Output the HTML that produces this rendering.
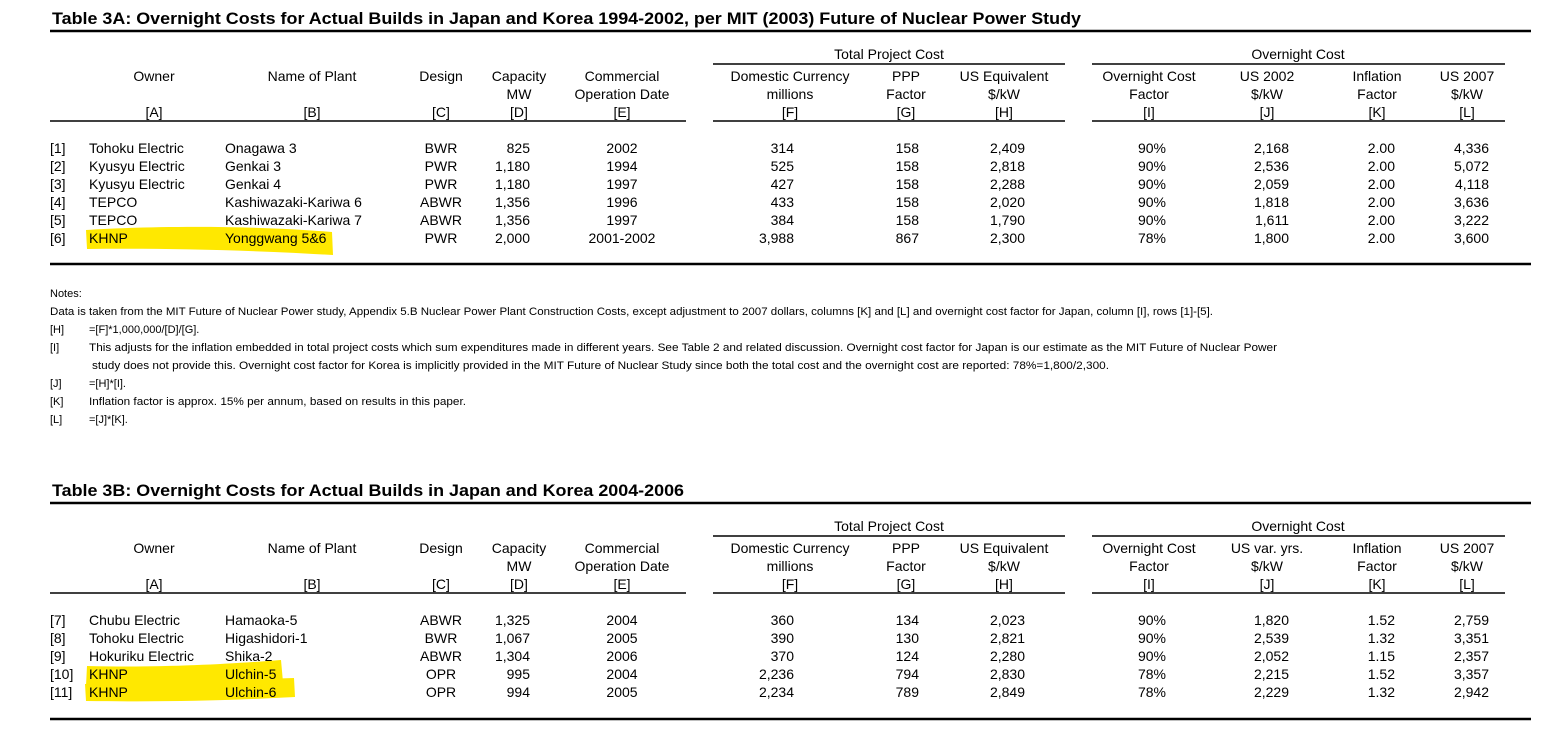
<!DOCTYPE html>
<html><head><meta charset="utf-8"><style>
html,body{margin:0;padding:0;background:#fff;}
svg{display:block;}
text{font-family:"Liberation Sans",Arial,sans-serif;fill:#000;}
.h{font-size:14px;}
.d{font-size:14px;}
.n{font-size:11px;}
.t{font-size:17px;font-weight:bold;}
</style></head><body>
<svg id="s" width="1557" height="735" viewBox="0 0 1557 735" xmlns="http://www.w3.org/2000/svg">
<g id="hl">
<path d="M86,230 C150,226 250,225 332,232 L333,255 C250,250 160,248 87,249 Z" fill="#ffe800"/>
<path d="M87,666 C160,668 230,664 281,660 L283,682 C220,683 160,684 86,686 Z" fill="#ffe800"/>
<path d="M85,684 C160,682 230,680 294,678 L295,697 C220,701 160,702 86,701 Z" fill="#ffe800"/>
</g>
<g id="g"></g>
</svg>
<script>
const NS="http://www.w3.org/2000/svg";
const g=document.getElementById('g');
function T(x,y,str,cls,anchor,name,len){
  const t=document.createElementNS(NS,'text');
  t.setAttribute('x',x);t.setAttribute('y',y);
  t.setAttribute('class',cls);
  if(anchor)t.setAttribute('text-anchor',anchor);
  if(len){t.setAttribute('textLength',len);t.setAttribute('lengthAdjust','spacingAndGlyphs');}
  t.textContent=str;
  
  
  g.appendChild(t);
}
function L(x1,x2,y,w,name){
  const l=document.createElementNS(NS,'line');
  l.setAttribute('x1',x1);l.setAttribute('x2',x2);l.setAttribute('y1',y);l.setAttribute('y2',y);
  l.setAttribute('stroke','#000');l.setAttribute('stroke-width',w);
  
  
  g.appendChild(l);
}
const idxA=["[1]","[2]","[3]","[4]","[5]","[6]"];
const ownerA=["Tohoku Electric","Kyusyu Electric","Kyusyu Electric","TEPCO","TEPCO","KHNP"];
const plantA=["Onagawa 3","Genkai 3","Genkai 4","Kashiwazaki-Kariwa 6","Kashiwazaki-Kariwa 7","Yonggwang 5&6"];
const designA=["BWR","PWR","PWR","ABWR","ABWR","PWR"];
const capA=["825","1,180","1,180","1,356","1,356","2,000"];
const dateA=["2002","1994","1997","1996","1997","2001-2002"];
const domA=["314","525","427","433","384","3,988"];
const pppA=["158","158","158","158","158","867"];
const usA=["2,409","2,818","2,288","2,020","1,790","2,300"];
const ocfA=["90%","90%","90%","90%","90%","78%"];
const us02A=["2,168","2,536","2,059","1,818","1,611","1,800"];
const infA=["2.00","2.00","2.00","2.00","2.00","2.00"];
const us07A=["4,336","5,072","4,118","3,636","3,222","3,600"];

const idxB=["[7]","[8]","[9]","[10]","[11]"];
const ownerB=["Chubu Electric","Tohoku Electric","Hokuriku Electric","KHNP","KHNP"];
const plantB=["Hamaoka-5","Higashidori-1","Shika-2","Ulchin-5","Ulchin-6"];
const designB=["ABWR","BWR","ABWR","OPR","OPR"];
const capB=["1,325","1,067","1,304","995","994"];
const dateB=["2004","2005","2006","2004","2005"];
const domB=["360","390","370","2,236","2,234"];
const pppB=["134","130","124","794","789"];
const usB=["2,023","2,821","2,280","2,830","2,849"];
const ocfB=["90%","90%","90%","78%","78%"];
const us02B=["1,820","2,539","2,052","2,215","2,229"];
const infB=["1.52","1.32","1.15","1.52","1.32"];
const us07B=["2,759","3,351","2,357","3,357","2,942"];

const cols=[[50,'start'],[89,'start'],[225,'start'],[441,'middle'],[530,'end'],[622,'middle'],[794,'end'],[919,'end'],[1025,'end'],[1166,'end'],[1289,'end'],[1395,'end'],[1489,'end']];
const colNames=['row-index','owner','plant-name','design','capacity','operation-date','domestic-currency','ppp-factor','us-equivalent','overnight-factor','us-cost','inflation-factor','us-2007'];

function table(top,title,titleLen,midLabel,data,pre){
  T(52,top+24,title,'t',null,pre+'-title',titleLen);
  L(50,1531,top+31,2.5,pre+'-top-rule');
  T(889,top+59,'Total Project Cost','h','middle',pre+'-group-total-project-cost');
  T(1298,top+59,'Overnight Cost','h','middle',pre+'-group-overnight-cost');
  L(713,1065,top+64,1.5,pre+'-group-rule-total');
  L(1092,1505,top+64,1.5,pre+'-group-rule-overnight');
  const hdr=[[154,['Owner','','[A]']],[312,['Name of Plant','','[B]']],[441,['Design','','[C]']],[519,['Capacity','MW','[D]']],[622,['Commercial','Operation Date','[E]']],[790,['Domestic Currency','millions','[F]']],[906,['PPP','Factor','[G]']],[1004,['US Equivalent','$/kW','[H]']],[1149,['Overnight Cost','Factor','[I]']],[1267,[midLabel,'$/kW','[J]']],[1377,['Inflation','Factor','[K]']],[1467,['US 2007','$/kW','[L]']]];
  hdr.forEach((h,i)=>{h[1].forEach((s,j)=>{if(s)T(h[0],top+81+j*18,s,'h','middle',pre+'-header-'+(i)+'-'+j);});});
  L(50,686,top+121,1.5,pre+'-header-rule-1');
  L(713,1065,top+121,1.5,pre+'-header-rule-2');
  L(1092,1505,top+121,1.5,pre+'-header-rule-3');
  const n=data[0].length;
  for(let r=0;r<n;r++){
    const y=top+153+r*18;
    data.forEach((arr,c)=>T(cols[c][0],y,arr[r],'d',cols[c][1],pre+'-'+colNames[c]+'-'+(r+1)));
  }
}
table(0,'Table 3A: Overnight Costs for Actual Builds in Japan and Korea 1994-2002, per MIT (2003) Future of Nuclear Power Study',1029,'US 2002',[idxA,ownerA,plantA,designA,capA,dateA,domA,pppA,usA,ocfA,us02A,infA,us07A],'table-3a');
L(50,1531,264,2.5,'table-3a-bottom-rule');

T(50,297,'Notes:','n',null,'notes-heading');
T(50,315,'Data is taken from the MIT Future of Nuclear Power study, Appendix 5.B Nuclear Power Plant Construction Costs, except adjustment to 2007 dollars, columns [K] and [L] and overnight cost factor for Japan, column [I], rows [1]-[5].','n',null,'note-source',1163);
const noteLabels=["[H]","[I]","","[J]","[K]","[L]"];
const noteTexts=["=[F]*1,000,000/[D]/[G].","This adjusts for the inflation embedded in total project costs which sum expenditures made in different years. See Table 2 and related discussion. Overnight cost factor for Japan is our estimate as the MIT Future of Nuclear Power"," study does not provide this.  Overnight cost factor for Korea is implicitly provided in the MIT Future of Nuclear Study since both the total cost and the overnight cost are reported: 78%=1,800/2,300.","=[H]*[I].","Inflation factor is approx. 15% per annum, based on results in this paper.","=[J]*[K]."];
const noteLens=[0,1188,1017,0,377,0];
noteTexts.forEach((s,i)=>{const y=333+i*18;if(noteLabels[i])T(50,y,noteLabels[i],'n',null,'note-label-'+i);T(i==2?92:89,y,s,'n',null,'note-text-'+i,noteLens[i]||null);});

table(472,'Table 3B: Overnight Costs for Actual Builds in Japan and Korea 2004-2006',632,'US var. yrs.',[idxB,ownerB,plantB,designB,capB,dateB,domB,pppB,usB,ocfB,us02B,infB,us07B],'table-3b');
L(50,1531,719,2.5,'table-3b-bottom-rule');
</script>
</body></html>
